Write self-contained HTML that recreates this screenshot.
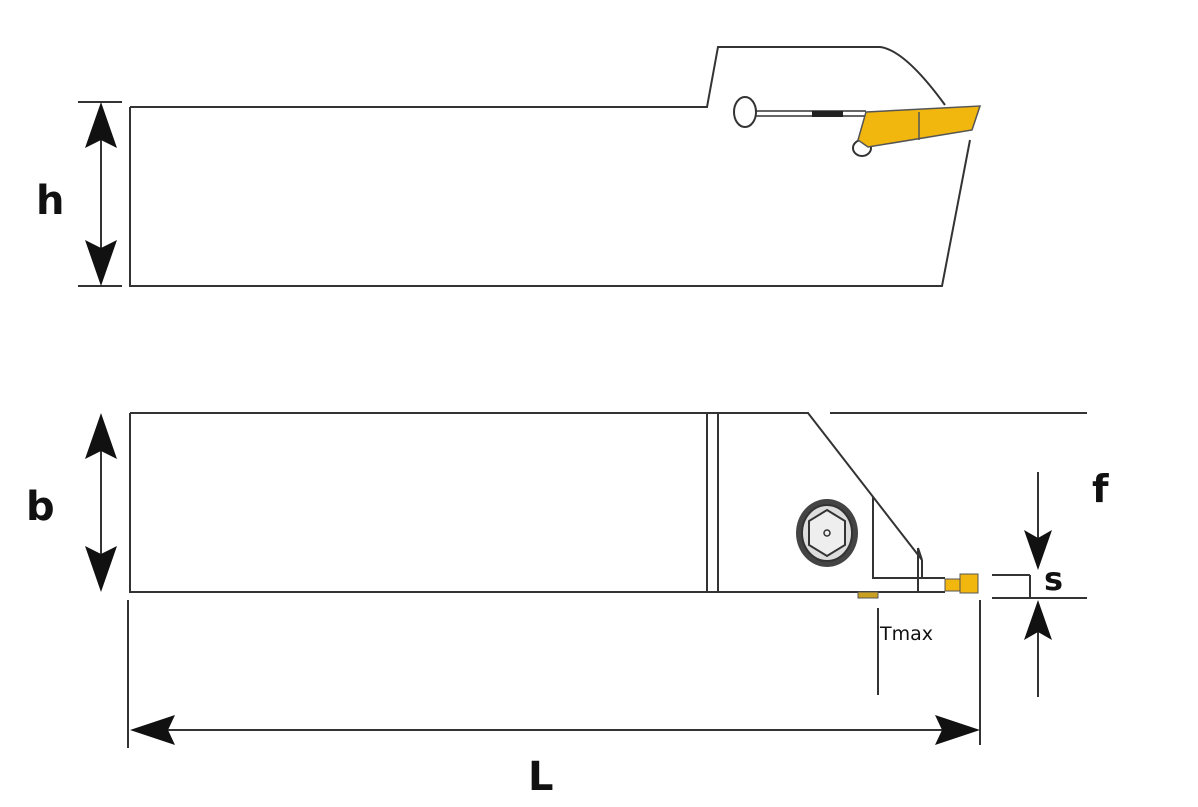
<!DOCTYPE html>
<html><head><style>
html,body{margin:0;padding:0;background:#fff;}
svg{display:block;}
text{font-family:"DejaVu Sans","Liberation Sans",sans-serif;fill:#111;font-weight:bold;}
text.n{font-weight:normal;}
</style></head><body>
<svg width="1198" height="807" viewBox="0 0 1198 807" xmlns="http://www.w3.org/2000/svg">
<g fill="none" stroke="#333" stroke-width="2">
<path d="M130 107 H707 L718 47 H880 Q905 50 945 105"/>
<path d="M970 140 L942 286 H130 V107"/>
<ellipse cx="745" cy="112" rx="11" ry="15"/>
<path d="M756 111 H866 M756 116 H866" stroke-width="1.5"/>
<ellipse cx="862" cy="148" rx="9" ry="8"/>
<path d="M78 102 H122 M78 286 H122"/>
<path d="M101 130 V260" />
<path d="M130 413 H808 L922 560 M130 413 V592 H945 M707 413 V592 M718 413 V592"/>
<path d="M830 413 H1087"/>
<path d="M873 497 V578 H945 M918 548 V592 M922 560 V578 M918 548 L922 560"/>
<path d="M992 575 H1030 M992 598 H1087 M1030 575 V598"/>
<path d="M1038 472 V550 M1038 620 V697"/>
<path d="M878 608 V695 M980 600 V745 M128 600 V748 M160 730 H950"/>
<path d="M101 440 V565"/>
</g>
<ellipse cx="827" cy="533" rx="31" ry="34" fill="#444"/>
<ellipse cx="827" cy="533" rx="25" ry="28" fill="#ddd" stroke="#333" stroke-width="2"/>
<polygon points="827,510 845,521 845,545 827,556 809,545 809,521" fill="#eee" stroke="#333" stroke-width="2"/>
<circle cx="827" cy="533" r="3" fill="none" stroke="#333" stroke-width="1.5"/>
<rect x="812" y="111" width="31" height="6" fill="#222"/>
<polygon points="866,112 980,106 972,130 868,147 858,140" fill="#f2b70f" stroke="#555" stroke-width="1.5"/>
<line x1="919" y1="112" x2="919" y2="140" stroke="#555" stroke-width="1.5"/>
<rect x="960" y="574" width="18" height="19" fill="#f2b70f" stroke="#555"/>
<rect x="945" y="579" width="15" height="12" fill="#f2b70f" stroke="#555"/>
<rect x="858" y="592" width="20" height="6" fill="#c9a020" stroke="#555"/>
<g fill="#111">
<polygon points="101,102 85,148 101,140 117,148"/>
<polygon points="101,286 85,240 101,248 117,240"/>
<polygon points="101,413 85,459 101,451 117,459"/>
<polygon points="101,592 85,546 101,554 117,546"/>
<polygon points="130,730 175,715 168,730 175,745"/>
<polygon points="980,730 935,715 942,730 935,745"/>
<polygon points="1038,570 1024,530 1038,538 1052,530"/>
<polygon points="1038,600 1024,640 1038,632 1052,640"/>
</g>
<text x="36" y="214" font-size="40">h</text>
<text x="26" y="520" font-size="40">b</text>
<text x="1092" y="502" font-size="38">f</text>
<text x="1044" y="590" font-size="32">s</text>
<text class="n" x="880" y="640" font-size="19">Tmax</text>
<text x="528" y="790" font-size="40">L</text>
</svg>
</body></html>
